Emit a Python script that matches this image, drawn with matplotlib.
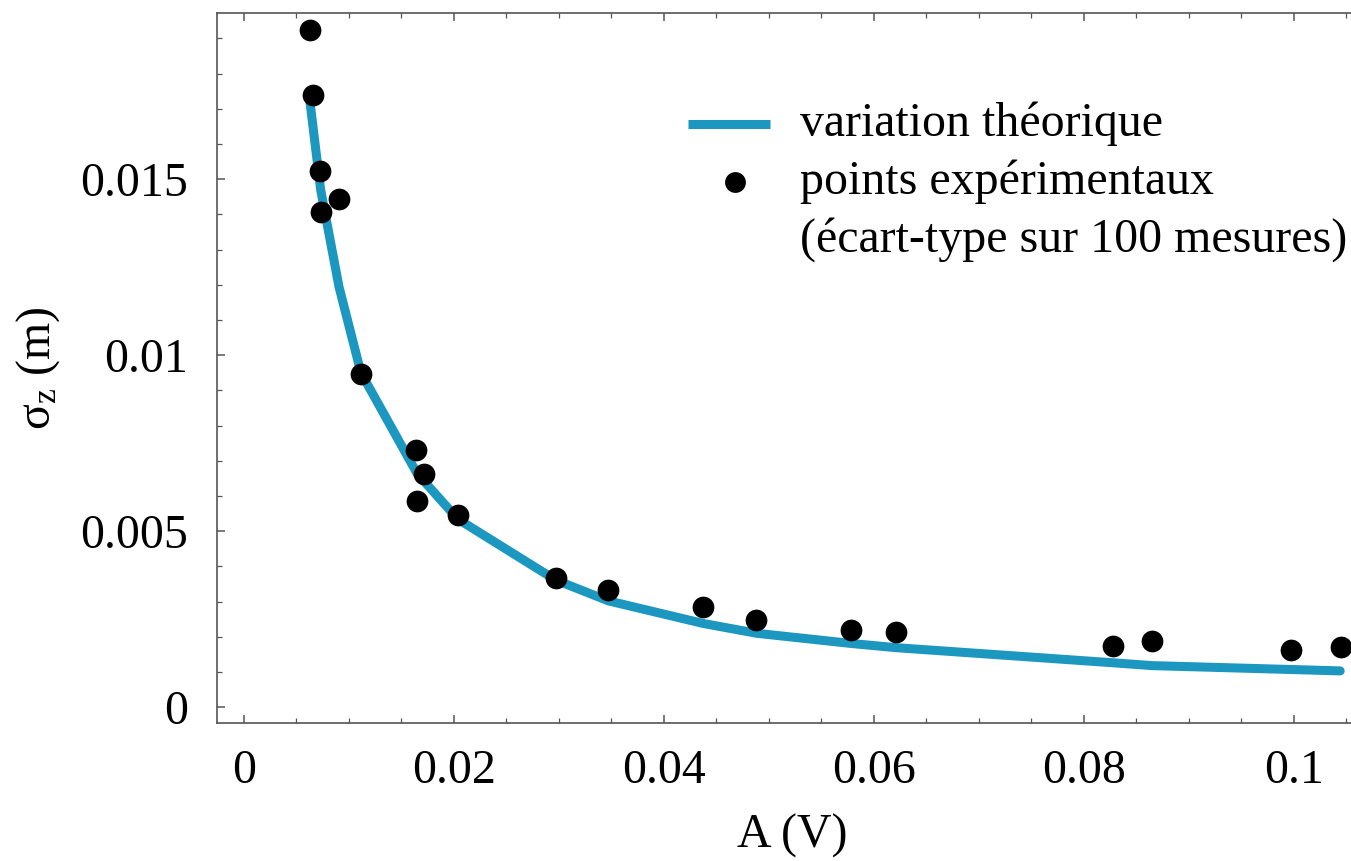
import matplotlib
matplotlib.use("Agg")
import matplotlib.pyplot as plt
from matplotlib.ticker import FixedLocator, MultipleLocator
from matplotlib.lines import Line2D

plt.rcParams['font.family'] = ['Liberation Serif', 'DejaVu Serif']
plt.rcParams['mathtext.fontset'] = 'custom'
plt.rcParams['mathtext.rm'] = 'Liberation Serif'
plt.rcParams['mathtext.it'] = 'Liberation Serif:italic'

# experimental points
exp_A = [0.00629, 0.00657, 0.00724, 0.00733, 0.00905, 0.01114, 0.01638, 0.01714,
         0.01648, 0.02038, 0.02971, 0.03467, 0.04371, 0.04876, 0.05781, 0.06210,
         0.08276, 0.08648, 0.09971, 0.10448]
exp_sigma = [0.01923, 0.01739, 0.01523, 0.01406, 0.01443, 0.00946, 0.00730, 0.00662,
             0.00585, 0.00545, 0.00366, 0.00332, 0.00284, 0.00247, 0.00219, 0.00213,
             0.00173, 0.00188, 0.00162, 0.00170]

# theoretical curve (vertices)
th_A = [0.0063, 0.0073, 0.00905, 0.01114, 0.01648, 0.02038, 0.0297, 0.0347, 0.0437,
        0.0488, 0.0578, 0.0621, 0.0828, 0.0865, 0.0997, 0.1044]
th_sigma = [0.01716, 0.01470, 0.01194, 0.00950, 0.00664, 0.00534, 0.00361, 0.00302,
            0.00238, 0.00210, 0.00181, 0.00169, 0.00126, 0.00118, 0.00107, 0.00103]

x_ticks = [0, 0.02, 0.04, 0.06, 0.08, 0.1]
x_labels = ["0", "0.02", "0.04", "0.06", "0.08", "0.1"]
y_ticks = [0, 0.005, 0.01, 0.015]
y_labels = ["0", "0.005", "0.01", "0.015"]

FS = 34.5
W, H = 1351, 861
fig = plt.figure(figsize=(W / 100, H / 100), dpi=100)
ax_left, ax_right_px = 217, 244 + 0.107 * 10500
ax_w_px = ax_right_px - ax_left
ax = fig.add_axes([ax_left / W, 1 - 723 / H, ax_w_px / W, (723 - 13) / H])

line_color = '#1b97c0'
ax.plot(th_A, th_sigma, color=line_color, lw=6.5, solid_capstyle='round',
        solid_joinstyle='round', zorder=2)
ax.scatter(exp_A, exp_sigma, s=245, color='black', zorder=3, linewidths=0)

ax.set_xlim(-0.00257, 0.107)
ax.set_ylim(-0.00045, 0.01972)

ax.xaxis.set_major_locator(FixedLocator(x_ticks))
ax.xaxis.set_minor_locator(MultipleLocator(0.005))
ax.set_xticklabels(x_labels)
ax.yaxis.set_major_locator(FixedLocator(y_ticks))
ax.yaxis.set_minor_locator(MultipleLocator(0.001))
ax.set_yticklabels(y_labels)

spine_color = '#555555'
for s in ax.spines.values():
    s.set_color(spine_color)
    s.set_linewidth(1.2)

ax.tick_params(which='both', direction='in', top=True, right=False, colors=spine_color,
               labelcolor='black', labelsize=FS)
ax.tick_params(which='major', length=6, width=1.1)
ax.tick_params(which='minor', length=3.5, width=0.9)
ax.tick_params(axis='x', which='both', pad=19)
ax.tick_params(axis='y', which='both', pad=21)

ax.set_xlabel('A (V)', fontsize=FS)
ax.xaxis.set_label_coords((792 - ax_left) / ax_w_px, -(814 - 723) / 710)
ax.set_ylabel(r'σ$_\mathrm{z}$ (m)', fontsize=FS)
ax.yaxis.set_label_coords(-(ax_left - 62) / ax_w_px, 0.5)

# manual legend (in figure pixel coordinates)
def fx(px):
    return px / W

def fy(py):
    return 1 - py / H

fig.add_artist(Line2D([fx(688), fx(770)], [fy(124), fy(124)], color=line_color, lw=6.5,
                      solid_capstyle='butt'))
fig.add_artist(Line2D([fx(735)], [fy(182)], marker='o', markersize=15, color='black',
                      linestyle='none', markeredgewidth=0))
fig.text(fx(800), fy(124), 'variation théorique', fontsize=FS, va='center', ha='left')
fig.text(fx(800), fy(182), 'points expérimentaux', fontsize=FS, va='center', ha='left')
fig.text(fx(800), fy(240), '(écart-type sur 100 mesures)', fontsize=FS, va='center', ha='left')

fig.savefig('out.png', dpi=100)
